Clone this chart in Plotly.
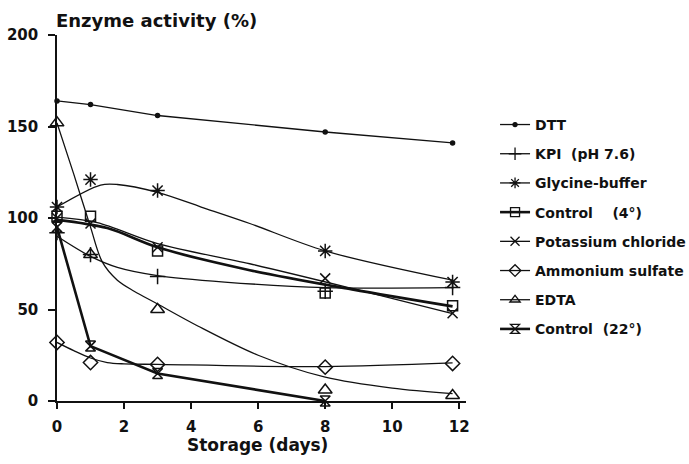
import plotly.graph_objects as go

# ---- data ----
days = [0, 1, 3, 8, 11.8]
dtt = [164, 162, 156, 147, 141]
kpi = [92, 80, 68, 60, 62]
glycine = [106, 121, 115, 82, 65]
control4 = [101, 101, 82, 59, 52]
kcl = [100, 97, 84, 67, 48]
ammonium = [32, 21, 20, 18.5, 20.5]
edta = [152, 80, 50, 6, 3]
control22_days = [0, 1, 3, 8]
control22 = [95, 30, 15, 0]

# fitted curves as drawn in the picture
kpi_fit_x = [0, 1, 1.8, 3, 5, 8, 11.8]
kpi_fit = [90, 79, 73, 68.5, 65, 62, 62]
gly_fit_x = [0, 1.3, 1.8, 3, 4.3, 5.75, 8, 11.8]
gly_fit = [106, 118, 118.3, 114, 106, 97, 82, 66]
c4_fit_x = [0, 1.5, 3, 5.75, 8.8, 11.8]
c4_fit = [99, 94.5, 84, 71.5, 61, 51.7]
kcl_fit_x = [0, 1.2, 3, 5.75, 8.8, 11.8]
kcl_fit = [100.5, 97.5, 86, 75, 61.5, 47.7]
amm_fit_x = [0, 0.5, 1, 1.5, 2, 3, 8, 11.8]
amm_fit = [32, 27.5, 23.5, 21, 20.3, 20, 18.8, 20.8]
edta_fit_x = [0, 0.5, 1, 1.35, 1.8, 2.3, 3, 4.2, 6, 8, 10, 11.8]
edta_fit = [152, 124, 95, 76, 66, 60, 53, 41, 25, 13, 7, 4]

names = ["DTT", "KPI\u00a0\u00a0(pH 7.6)", "Glycine-buffer", "Control\u00a0\u00a0\u00a0\u00a0(4°)",
         "Potassium chloride", "Ammonium sulfate", "EDTA", "Control\u00a0\u00a0(22°)"]

INK = "#111111"
FONT = "DejaVu Sans"

series = [
    # name, marker x, marker y, curve x, curve y, symbol, size, line width, shape
    (names[0], days, dtt, days, dtt, "circle", 4, 1.3, "linear"),
    (names[1], days, kpi, kpi_fit_x, kpi_fit, "cross-thin-open", 11, 1.3, "spline"),
    (names[2], days, glycine, gly_fit_x, gly_fit, "asterisk-open", 12, 1.3, "spline"),
    (names[3], days, control4, c4_fit_x, c4_fit, "square-open", 10, 2.6, "spline"),
    (names[4], days, kcl, kcl_fit_x, kcl_fit, "x-thin-open", 10, 1.3, "spline"),
    (names[5], days, ammonium, amm_fit_x, amm_fit, "diamond-open", 11, 1.3, "spline"),
    (names[6], days, edta, edta_fit_x, edta_fit, "triangle-up-open", 12, 1.3, "spline"),
    (names[7], control22_days, control22, control22_days, control22, "hourglass-open", 10, 2.6, "linear"),
]

fig = go.Figure()
for i, (nm, mx, my, cx, cy, sym, sz, lw, shp) in enumerate(series):
    g = "g%d" % i
    fig.add_trace(go.Scatter(x=cx, y=cy, mode="lines", line=dict(color=INK, width=lw, shape=shp, smoothing=0.9),
                             showlegend=False, legendgroup=g, cliponaxis=False, hoverinfo="skip"))
    fig.add_trace(go.Scatter(x=mx, y=my, mode="markers",
                             marker=dict(symbol=sym, size=sz, color=INK, line=dict(color=INK, width=1.5)),
                             showlegend=False, legendgroup=g, cliponaxis=False))
    fig.add_trace(go.Scatter(x=[None], y=[None], mode="lines+markers", name=nm, legendgroup=g,
                             line=dict(color=INK, width=lw),
                             marker=dict(symbol=sym, size=min(sz, 9), color=INK, line=dict(color=INK, width=1.3))))

tickfont = dict(family=FONT, size=15, color=INK, weight="bold")
axis_common = dict(showline=True, linecolor=INK, linewidth=1.5, ticks="outside", tickwidth=1.5,
                   tickcolor=INK, showgrid=False, zeroline=False, tickfont=tickfont, automargin=False)

fig.update_layout(
    width=689, height=464,
    margin=dict(l=57, r=223, t=35, b=63, autoexpand=False),
    paper_bgcolor="white", plot_bgcolor="white",
    xaxis=dict(range=[0, 12.2], tickvals=[0, 2, 4, 6, 8, 10, 12], ticklen=6, ticklabelstandoff=5,
               **axis_common),
    yaxis=dict(range=[0, 200], tickvals=[0, 50, 100, 150, 200], ticklen=7, ticklabelstandoff=7,
               **axis_common),
    legend=dict(x=1.071, y=0.798, xanchor="left", yanchor="top", tracegroupgap=8, itemwidth=30,
                font=dict(family=FONT, size=14, color=INK, weight="bold"), bgcolor="rgba(0,0,0,0)"),
    showlegend=True,
    annotations=[
        dict(text="Enzyme activity (%)", xref="paper", yref="paper", x=0, y=1, xanchor="left",
             yanchor="middle", xshift=-3, yshift=15, showarrow=False,
             font=dict(family=FONT, size=18, color=INK, weight="bold")),
        dict(text="Storage (days)", xref="paper", yref="paper", x=0.489, y=0, xanchor="center",
             yanchor="middle", yshift=-44, showarrow=False,
             font=dict(family=FONT, size=17, color=INK, weight="bold")),
    ],
)

fig.write_html("out.html")
